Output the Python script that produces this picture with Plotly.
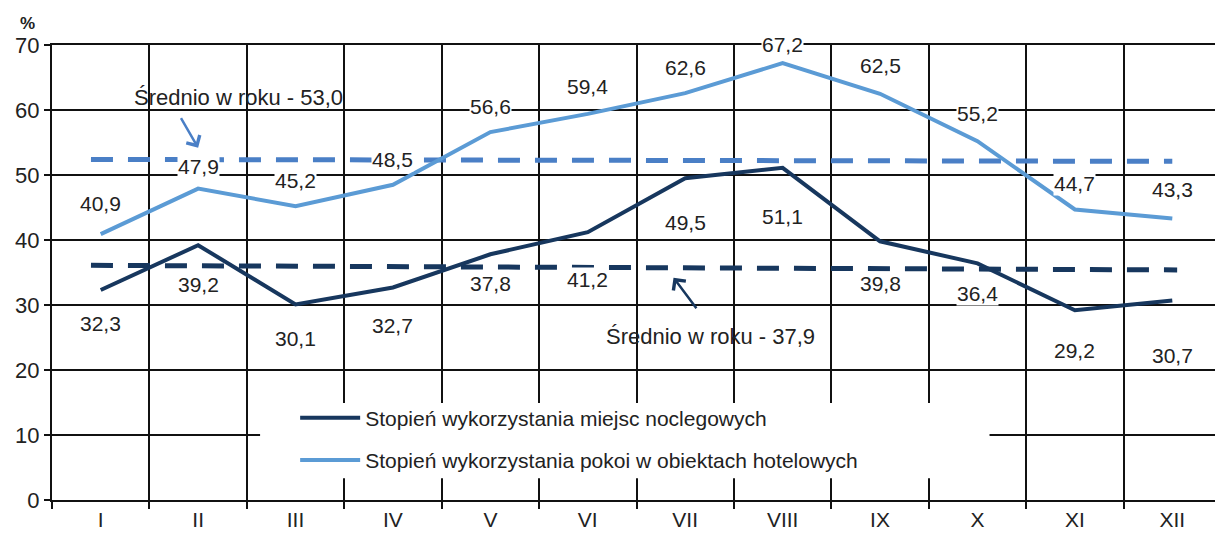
import plotly.graph_objects as go

MONTHS = ["I", "II", "III", "IV", "V", "VI", "VII", "VIII", "IX", "X", "XI", "XII"]
BEDS = [32.3, 39.2, 30.1, 32.7, 37.8, 41.2, 49.5, 51.1, 39.8, 36.4, 29.2, 30.7]
ROOMS = [40.9, 47.9, 45.2, 48.5, 56.6, 59.4, 62.6, 67.2, 62.5, 55.2, 44.7, 43.3]
BEDS_AVG_LINE = [36.1, 35.4]
ROOMS_AVG_LINE = [52.4, 52.1]
BEDS_NAME = "Stopień wykorzystania miejsc noclegowych"
ROOMS_NAME = "Stopień wykorzystania pokoi w obiektach hotelowych"
BEDS_AVG_TEXT = "Średnio w roku - 37,9"
ROOMS_AVG_TEXT = "Średnio w roku - 53,0"
Y_TICKS = [0, 10, 20, 30, 40, 50, 60, 70]

# label offsets in pixels (layout tweaks)
ROOMS_SHIFT = [31, 22, 26, 25, 26, 27, 26, 19, 28, 28, 26, 29]
BEDS_SHIFT = [33, 39, 34, 38, 29, 47, 44, 49, 42, 30, 40, 55]

DARK = "#17375e"
LIGHT = "#5b9bd5"
LIGHT_DASH = "#4a7fc6"
FONT = "Liberation Sans, Arial, sans-serif"
TEXT = "#222222"
LBL = 21

x = list(range(1, len(MONTHS) + 1))

fig = go.Figure()
fig.add_trace(go.Scatter(
    x=[x[0] - 0.1, x[-1]], y=ROOMS_AVG_LINE, mode="lines", showlegend=False,
    line=dict(color=LIGHT_DASH, width=5, dash="22px,15px"), hoverinfo="skip",
))
fig.add_trace(go.Scatter(
    x=[x[0] - 0.1, x[-1] + 0.05], y=BEDS_AVG_LINE, mode="lines", showlegend=False,
    line=dict(color=DARK, width=5, dash="22px,15px"), hoverinfo="skip",
))
fig.add_trace(go.Scatter(
    x=x, y=BEDS, mode="lines", name=BEDS_NAME, legendgroup="a",
    line=dict(color=DARK, width=4),
))
fig.add_trace(go.Scatter(
    x=x, y=ROOMS, mode="lines", name=ROOMS_NAME, legendgroup="b",
    line=dict(color=LIGHT, width=4),
))

for xi, v, s in zip(x, ROOMS, ROOMS_SHIFT):
    fig.add_annotation(x=xi, y=v, yshift=s, text=f"{v:.1f}".replace(".", ","),
                       showarrow=False, bgcolor="white", borderpad=0,
                       font=dict(size=LBL, color=TEXT, family=FONT))
for xi, v, s in zip(x, BEDS, BEDS_SHIFT):
    fig.add_annotation(x=xi, y=v, yshift=-s, text=f"{v:.1f}".replace(".", ","),
                       showarrow=False, bgcolor="white", borderpad=0,
                       font=dict(size=LBL, color=TEXT, family=FONT))

# average labels with arrows
fig.add_annotation(x=2.41, y=62.0, text=ROOMS_AVG_TEXT, showarrow=False,
                   font=dict(size=22, color=TEXT, family=FONT))
fig.add_annotation(x=2.0, y=54.2, ax=-18, ay=-31, text="", showarrow=True,
                   arrowhead=4, arrowsize=1.2, arrowwidth=2.5, arrowcolor=LIGHT_DASH)
fig.add_annotation(x=7.26, y=25.2, text=BEDS_AVG_TEXT, showarrow=False,
                   font=dict(size=22, color=TEXT, family=FONT))
fig.add_annotation(x=6.88, y=34.2, ax=24, ay=32, text="", showarrow=True,
                   arrowhead=4, arrowsize=1.2, arrowwidth=2.5, arrowcolor=DARK)

fig.add_annotation(xref="paper", yref="paper", x=0, y=1, xshift=-34, yshift=33,
                   text="<b>%</b>", showarrow=False,
                   font=dict(size=17, color=TEXT, family=FONT))

# white patch behind the legend
fig.add_shape(type="rect", xref="paper", yref="paper", x0=0.178, x1=0.802,
              y0=0.048, y1=0.213, fillcolor="white", line=dict(width=0),
              layer="above")

fig.update_xaxes(
    range=[0.5, 12.5], tickvals=x, ticktext=MONTHS, ticks="", showgrid=False,
    showline=True, linecolor="#111", linewidth=2, mirror=True, zeroline=False,
    automargin=False,
    tickfont=dict(size=LBL, color=TEXT, family=FONT),
    minor=dict(tickvals=[i + 0.5 for i in range(0, 13)], showgrid=True,
               gridcolor="#111", gridwidth=2, ticks="outside", ticklen=7,
               tickwidth=2, tickcolor="#111"),
)
fig.update_yaxes(
    range=[0, 70], tickvals=Y_TICKS, showgrid=True, gridcolor="#111", gridwidth=2,
    ticks="outside", ticklen=6, tickwidth=2, tickcolor="#111",
    showline=True, linecolor="#111", linewidth=2, mirror=True, zeroline=False,
    automargin=False,
    tickfont=dict(size=22, color=TEXT, family=FONT),
)
# the page body has an 8px margin, so the figure is sized/offset for it
fig.update_layout(
    width=1215, height=535,
    margin=dict(l=44, r=2, t=37, b=43),
    plot_bgcolor="white", paper_bgcolor="white",
    legend=dict(x=0.208, y=0.225, xanchor="left", yanchor="top",
                bgcolor="rgba(0,0,0,0)", tracegroupgap=12, itemwidth=60,
                font=dict(size=LBL, color=TEXT, family=FONT)),
)

fig.write_html("out.html")
